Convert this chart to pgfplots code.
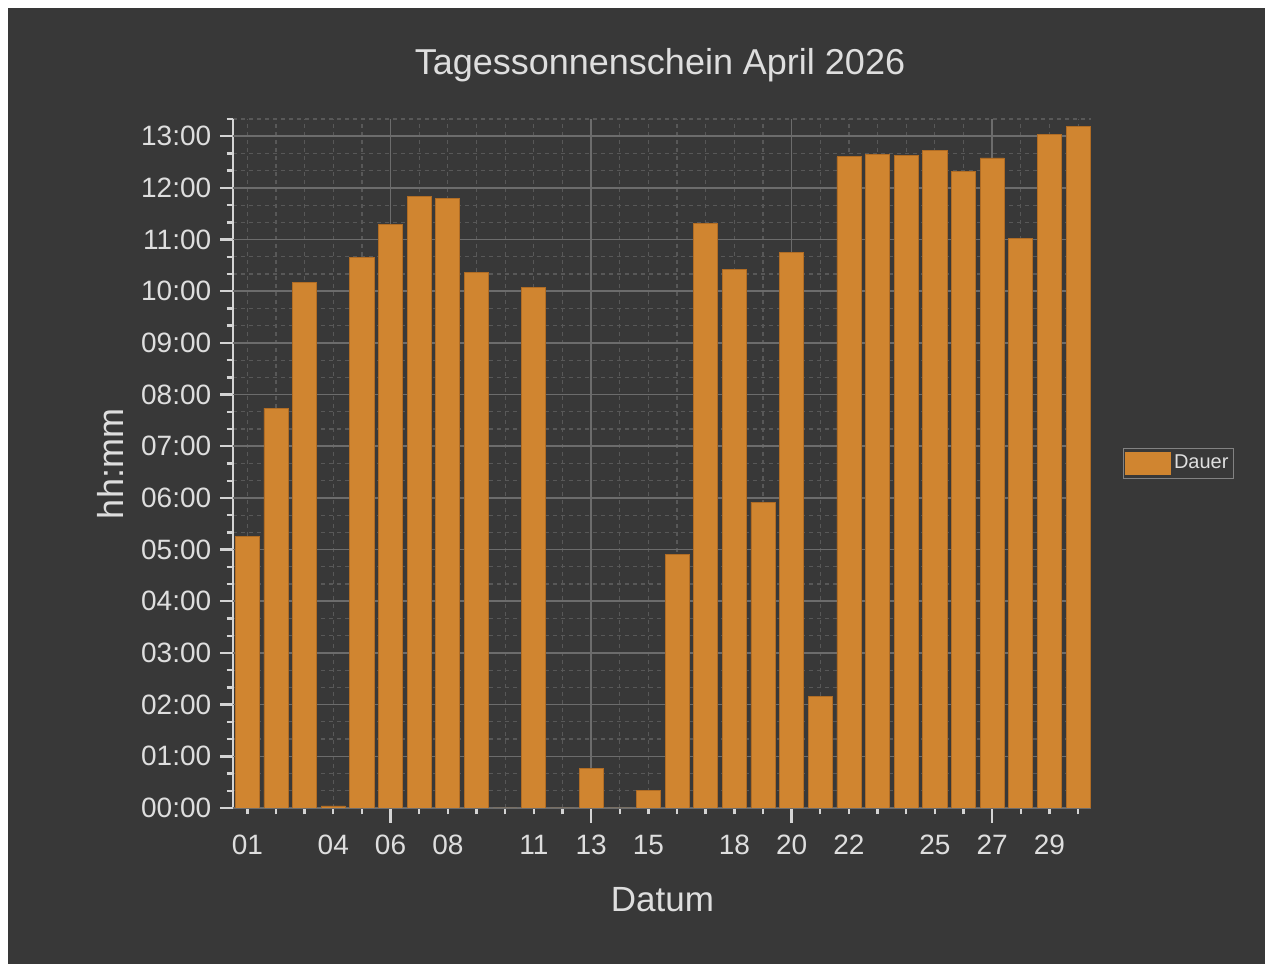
\documentclass[border=0pt]{standalone}
\usepackage{fontspec}
\setmainfont{Liberation Sans}
\usepackage{pgfplots}
\pgfplotsset{compat=1.18}
\definecolor{bg}{RGB}{56,56,56}
\definecolor{txt}{RGB}{222,222,222}
\definecolor{barc}{RGB}{208,133,48}
\definecolor{bard}{RGB}{176,108,36}
\definecolor{gmaj}{RGB}{108,108,108}
\definecolor{gmin}{RGB}{88,88,88}
\definecolor{axc}{RGB}{212,212,212}
\pgfplotsset{layers/mylayers/.define layer set={axis background,axis grid,main,axis ticks,axis lines,axis tick labels,axis descriptions,axis foreground}{}}
\begin{document}
\begin{tikzpicture}
\fill[white] (0pt,0pt) rectangle (632.5pt,482pt);
\fill[bg] (4pt,0pt) rectangle (632.5pt,478pt);
\begin{axis}[
  set layers=mylayers,
  at={(116.5pt,78pt)}, anchor=south west,
  scale only axis, width=429pt, height=344.5pt,
  xmin=0.5, xmax=30.45, ymin=0, ymax=13.3334,
  axis lines=left,
  axis line style={-, axc, line width=1.3pt},
  tick align=outside,
  tick style={axc, line width=1.2pt},
  major tick length=3.25pt,
  xtick={1,2,3,4,5,6,7,8,9,10,11,12,13,14,15,16,17,18,19,20,21,22,23,24,25,26,27,28,29,30},
  xticklabels={01,,,04,,06,,08,,,11,,13,,15,,,18,,20,,22,,,25,,27,,29,},
  ytick={0,0.3333,0.6667,1,1.3333,1.6667,2,2.3333,2.6667,3,3.3333,3.6667,4,4.3333,4.6667,5,5.3333,5.6667,6,6.3333,6.6667,7,7.3333,7.6667,8,8.3333,8.6667,9,9.3333,9.6667,10,10.3333,10.6667,11,11.3333,11.6667,12,12.3333,12.6667,13,13.3333},
  yticklabels={00:00,,,01:00,,,02:00,,,03:00,,,04:00,,,05:00,,,06:00,,,07:00,,,08:00,,,09:00,,,10:00,,,11:00,,,12:00,,,13:00,},
  grid=major,
  major grid style={dash pattern=on 2pt off 2pt, gmin, line width=0.6pt},
  extra x ticks={6,13,20,27},
  extra x tick labels={},
  extra x tick style={grid=major, major grid style={solid, gmaj, line width=0.8pt}, major tick length=7.5pt},
  extra y ticks={0,1,2,3,4,5,6,7,8,9,10,11,12,13},
  extra y tick labels={},
  extra y tick style={grid=major, major grid style={solid, gmaj, line width=0.8pt}, major tick length=6.5pt},
  ticklabel style={font=\fontsize{14}{16}\selectfont, text=txt},
  xticklabel style={yshift=-6.6pt},
  yticklabel style={xshift=-4.1pt},
  legend style={at={(1,0.5)}, anchor=west, xshift=15.8pt, draw={rgb,255:red,130;green,130;blue,130}, fill=bg, text=txt, font=\fontsize{10}{12}\selectfont, inner xsep=1pt, inner ysep=1.2pt, line width=0.6pt, nodes={inner xsep=1.5pt}},
  legend cell align=left,
  legend image code/.code={\fill[barc] (0pt,-5.5pt) rectangle (22.5pt,5.5pt);},
]
\addplot[ybar, bar width=0.84, fill=barc, draw=bard, line width=0.4pt] coordinates {
(1,5.26) (2,7.74) (3,10.17) (4,0.04) (5,10.66) (6,11.29) (7,11.84) (8,11.80) (9,10.37) (10,0)
(11,10.08) (12,0) (13,0.77) (14,0) (15,0.34) (16,4.91) (17,11.32) (18,10.42) (19,5.92) (20,10.75)
(21,2.16) (22,12.60) (23,12.65) (24,12.62) (25,12.73) (26,12.32) (27,12.58) (28,11.03) (29,13.04) (30,13.19)
};
\addlegendentry{Dauer}
\end{axis}
\node[anchor=base, text=txt, font=\fontsize{18}{20}\selectfont] at (330pt,444.5pt) {Tagessonnenschein April 2026};
\node[anchor=base, text=txt, font=\fontsize{17.5}{20}\selectfont] at (331.25pt,26.2pt) {Datum};
\node[anchor=base, rotate=90, text=txt, font=\fontsize{18}{20}\selectfont] at (61.5pt,250pt) {hh:mm};
\end{tikzpicture}
\end{document}
